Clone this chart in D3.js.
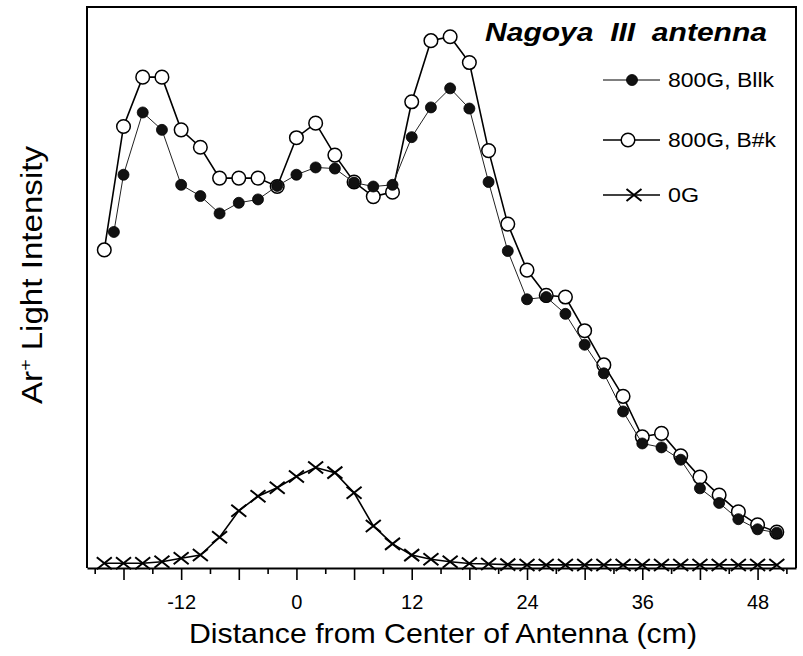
<!DOCTYPE html>
<html>
<head>
<meta charset="utf-8">
<script src="https://cdn.jsdelivr.net/npm/d3@7"></script>
<style>
  body { margin: 0; background: #fff; }
  svg { display: block; font-family: "Liberation Sans", Arial, Helvetica, sans-serif; }
</style>
</head>
<body>
<svg id="chart" width="803" height="656"></svg>
<script>
// distance from antenna centre (cm)
const xOpen = [-20,-18,-16,-14,-12,-10,-8,-6,-4,-2,0,2,4,6,8,10,12,14,16,18,20,22,24,26,28,30,32,34,36,38,40,42,44,46,48,50];
const xFilled = [-19,-18,-16,-14,-12,-10,-8,-6,-4,-2,0,2,4,6,8,10,12,14,16,18,20,22,24,26,28,30,32,34,36,38,40,42,44,46,48,50];
const xZero = [-20,-18,-16,-14,-12,-10,-8,-6,-4,-2,0,2,4,6,8,10,12,14,16,18,20,22,24,26,28,30,32,34,36,38,40,42,44,46,48,50];

// Ar+ light intensity, arbitrary units
const bSharpK = [56.7,78.7,87.5,87.5,78.1,75.0,69.5,69.5,69.5,68.0,76.7,79.3,73.6,68.8,66.2,67.0,83.1,94.0,94.7,90.1,74.4,61.3,53.1,48.6,48.3,42.3,36.2,30.6,23.4,24.0,20.0,16.2,13.0,10.0,7.7,6.4];
const bIIk = [59.9,70.1,81.2,78.1,68.3,66.3,63.2,65.1,65.7,68.1,70.1,71.4,71.2,68.7,68.0,68.3,76.8,82.1,85.5,81.9,68.8,56.5,47.9,48.3,45.3,39.8,34.7,27.9,22.2,21.5,19.3,14.2,11.6,8.7,6.9,6.3];
const zeroG = [0.84,0.84,0.84,1.12,1.73,2.32,5.47,10.2,12.8,14.3,16.3,17.9,17.0,13.4,7.5,4.3,2.3,1.55,1.1,0.8,0.7,0.6,0.55,0.55,0.55,0.55,0.55,0.55,0.55,0.55,0.55,0.55,0.55,0.55,0.55,0.55];

const majorTicks = [-18,-12,-6,0,6,12,18,24,30,36,42,48];
const minorTicks = [-21,-15,-9,-3,3,9,15,21,27,33,39,45,51];
const tickLabels = [-12,0,12,24,36,48];

const legendNames = ["800G, Bllk", "800G, B#k", "0G"];

var svg = d3.select("#chart");

var x = d3.scaleLinear().domain([-21.8, 52.0]).range([87, 796]);
var y = d3.scaleLinear().domain([0, 100]).range([568, 7]);

var line = d3.line()
  .x(function(d) { return x(d[0]); })
  .y(function(d) { return y(d[1]); });

var openData = d3.zip(xOpen, bSharpK);
var filledData = d3.zip(xFilled, bIIk);
var zeroData = d3.zip(xZero, zeroG);

// frame
svg.append("path")
  .attr("d", `M${x.range()[0]},${y.range()[0]}V${y.range()[1]}H${x.range()[1]}V${y.range()[0]}`)
  .attr("fill", "none")
  .attr("stroke", "#000")
  .attr("stroke-width", 2);

// bottom axis: major ticks
var axisMajor = svg.append("g")
  .attr("transform", `translate(0,${y(0)})`)
  .call(d3.axisBottom(x)
    .tickValues(majorTicks)
    .tickSize(12)
    .tickPadding(15)
    .tickSizeOuter(0)
    .tickFormat(function(d) { return tickLabels.indexOf(d) >= 0 ? d : ""; }));
axisMajor.select(".domain").attr("stroke-width", 2);
axisMajor.selectAll(".tick line").attr("stroke-width", 1.6);
axisMajor.selectAll(".tick text")
  .attr("font-size", 20)
  .attr("font-family", "Liberation Sans, Arial, sans-serif")
  .attr("fill", "#000");

// minor ticks
var axisMinor = svg.append("g")
  .attr("transform", `translate(0,${y(0)})`)
  .call(d3.axisBottom(x).tickValues(minorTicks).tickSize(6).tickSizeOuter(0).tickFormat(""));
axisMinor.select(".domain").remove();
axisMinor.selectAll(".tick line").attr("stroke-width", 1.6);

// axis titles
svg.append("text")
  .attr("x", 443)
  .attr("y", 643)
  .attr("text-anchor", "middle")
  .attr("font-size", 28)
  .attr("textLength", 508)
  .attr("lengthAdjust", "spacingAndGlyphs")
  .text("Distance from Center of Antenna (cm)");

var yTitle = svg.append("text")
  .attr("transform", "translate(42,275) rotate(-90)")
  .attr("text-anchor", "middle")
  .attr("font-size", 29)
  .attr("textLength", 258)
  .attr("lengthAdjust", "spacingAndGlyphs");
yTitle.append("tspan").text("Ar");
yTitle.append("tspan").attr("font-size", 17).attr("dy", -11).text("+");
yTitle.append("tspan").attr("dy", 11).text(" Light Intensity");

// chart title
svg.append("text")
  .attr("x", 485)
  .attr("y", 41)
  .attr("font-size", 25)
  .attr("font-weight", "bold")
  .attr("font-style", "italic")
  .attr("textLength", 282)
  .attr("lengthAdjust", "spacingAndGlyphs")
  .attr("xml:space", "preserve")
  .text("Nagoya  III  antenna");

function drawCross(g, cx, cy) {
  g.append("path")
    .attr("d", `M${cx - 7.5},${cy - 6}L${cx + 7.5},${cy + 6}M${cx - 7.5},${cy + 6}L${cx + 7.5},${cy - 6}`)
    .attr("stroke", "#000")
    .attr("stroke-width", 2)
    .attr("fill", "none");
}

// 0G series
var gZero = svg.append("g");
gZero.append("path")
  .datum(zeroData)
  .attr("d", line)
  .attr("fill", "none")
  .attr("stroke", "#000")
  .attr("stroke-width", 1.6);
zeroData.forEach(function(d) { drawCross(gZero, x(d[0]), y(d[1])); });

// 800G, B#k (open circles)
var gOpen = svg.append("g");
gOpen.append("path")
  .datum(openData)
  .attr("d", line)
  .attr("fill", "none")
  .attr("stroke", "#000")
  .attr("stroke-width", 1.6);
gOpen.selectAll("circle")
  .data(openData)
  .enter().append("circle")
  .attr("cx", function(d) { return x(d[0]); })
  .attr("cy", function(d) { return y(d[1]); })
  .attr("r", 6.8)
  .attr("fill", "#fff")
  .attr("stroke", "#000")
  .attr("stroke-width", 1.5);

// 800G, Bllk (filled circles)
var gFilled = svg.append("g");
gFilled.append("path")
  .datum(filledData)
  .attr("d", line)
  .attr("fill", "none")
  .attr("stroke", "#222")
  .attr("stroke-width", 1);
gFilled.selectAll("circle")
  .data(filledData)
  .enter().append("circle")
  .attr("cx", function(d) { return x(d[0]); })
  .attr("cy", function(d) { return y(d[1]); })
  .attr("r", 5.5)
  .attr("fill", "#111")
  .attr("stroke", "#000")
  .attr("stroke-width", 0.8);

// legend
var legendY = [80, 140, 195];
var legend = svg.append("g");
legendNames.forEach(function(name, i) {
  var ly = legendY[i];
  legend.append("line")
    .attr("x1", 603).attr("x2", 660)
    .attr("y1", ly).attr("y2", ly)
    .attr("stroke", "#000")
    .attr("stroke-width", i === 0 ? 1 : 1.6);
  if (i === 0) {
    legend.append("circle").attr("cx", 632).attr("cy", ly).attr("r", 5.5)
      .attr("fill", "#111").attr("stroke", "#000").attr("stroke-width", 0.8);
  } else if (i === 1) {
    legend.append("circle").attr("cx", 628).attr("cy", ly).attr("r", 6.8)
      .attr("fill", "#fff").attr("stroke", "#000").attr("stroke-width", 1.5);
  } else {
    drawCross(legend, 634, ly);
  }
  legend.append("text")
    .attr("x", 668)
    .attr("y", ly)
    .attr("dy", "0.36em")
    .attr("font-size", 20)
    .attr("textLength", i === 0 ? 106 : (i === 1 ? 108 : 31))
    .attr("lengthAdjust", "spacingAndGlyphs")
    .text(name);
});
</script>
</body>
</html>
